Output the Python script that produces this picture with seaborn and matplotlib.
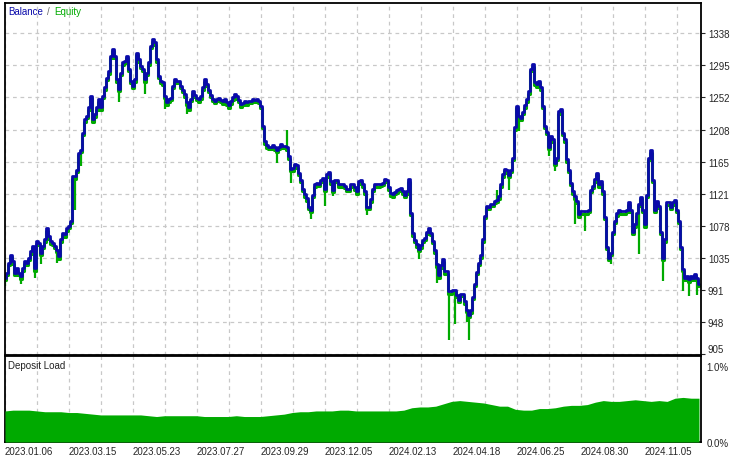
import numpy as np
import matplotlib
matplotlib.use("Agg")
import matplotlib.pyplot as plt
import matplotlib.transforms as mtransforms
from matplotlib.offsetbox import TextArea, HPacker, AnchoredOffsetbox
import seaborn as sns

# Balance curve, one value per ~2 px column of the tester chart
balance = [
    1008, 1015, 1028, 1039, 1030, 1015, 1021, 1015, 1010, 1021, 1030, 1028, 1035, 1044,
    1051, 1021, 1057, 1055, 1042, 1051, 1060, 1075, 1064, 1057, 1055, 1051, 1046,
    1037, 1060, 1069, 1067, 1075, 1078, 1085, 1145, 1145, 1154, 1177, 1181, 1204, 1222,
    1227, 1238, 1254, 1222, 1229, 1238, 1249, 1238, 1254, 1265, 1278, 1287, 1308, 1317,
    1308, 1276, 1263, 1285, 1299, 1301, 1308, 1290, 1274, 1267, 1276, 1312, 1303, 1294,
    1290, 1276, 1285, 1299, 1321, 1330, 1326, 1303, 1281, 1274, 1272, 1254, 1245, 1249,
    1251, 1267, 1276, 1274,
    1274, 1267, 1262, 1256, 1245, 1238, 1250, 1260, 1255, 1251, 1249, 1253, 1265, 1276,
    1270, 1262, 1255, 1250, 1247, 1250, 1251, 1248, 1246, 1250, 1245, 1241, 1246, 1252,
    1256, 1253, 1248, 1242, 1244, 1247, 1245, 1247, 1247, 1249, 1248, 1249, 1247, 1240,
    1213, 1192, 1187, 1185, 1185, 1187, 1184, 1181, 1185, 1189, 1186, 1186, 1184, 1172,
    1155, 1156, 1162, 1160, 1150, 1140, 1128, 1121, 1115, 1104, 1100, 1120, 1134, 1136,
    1135, 1140, 1142, 1128, 1148, 1151, 1138, 1127, 1140, 1140, 1134, 1135, 1134, 1132,
    1128, 1128, 1134, 1135,
    1130, 1125, 1138, 1140, 1134, 1125, 1104, 1104, 1114, 1128, 1135, 1134, 1134, 1135,
    1136, 1141, 1140, 1130, 1122, 1121, 1124, 1126, 1128, 1129, 1125, 1120, 1125, 1141,
    1096, 1068, 1059, 1053, 1047, 1052, 1059, 1062, 1070, 1075, 1069, 1058, 1045, 1026,
    1011, 1025, 1033, 1017, 1017, 990, 990, 992, 992, 985, 978, 986, 986, 976, 965, 958,
    964, 982, 1000, 1016, 1028, 1038, 1060, 1092, 1105, 1104, 1108, 1108, 1112, 1113,
    1118, 1134, 1148, 1155, 1153, 1147, 1154, 1170, 1211, 1240, 1227, 1224, 1232, 1241,
    1249, 1260,
    1290, 1296, 1272, 1269, 1274, 1265, 1240, 1213, 1205, 1185, 1200, 1195, 1163, 1170,
    1233, 1236, 1204, 1195, 1168, 1154, 1136, 1125, 1118, 1112, 1094, 1098, 1098, 1098,
    1098, 1100, 1127, 1132, 1141, 1150, 1134, 1138, 1125, 1090, 1050, 1035, 1042, 1070,
    1085, 1095, 1100, 1098, 1098, 1098, 1100, 1110, 1100, 1070, 1080, 1095, 1108, 1117,
    1100, 1080, 1120, 1170, 1180, 1140, 1100, 1112, 1105, 1070, 1035, 1060, 1110, 1110,
    1104, 1110, 1113, 1100, 1085, 1050, 1020, 1008, 1010, 1006, 1010, 1008, 1013, 1008, 1000,
]

# equity spikes (deal index, equity value) where floating P/L moved away from balance
equity_idx = [0, 8, 15, 18, 26, 35, 38, 57, 70, 80, 91, 136, 141, 143, 153, 160, 164,
              181, 207, 216, 222, 225, 231, 232, 246, 252, 257, 272, 275, 285, 290,
              303, 317, 329, 339, 342, 346]
equity_val = [997, 999, 1008, 1026, 1028, 1100, 1159, 1245, 1256, 1236, 1229, 1163, 1207,
              1136, 1087, 1105, 1118, 1093, 1033, 1001, 924, 946, 948, 924, 1127, 1127,
              1206, 1172, 1152, 1080, 1071, 1026, 1040, 1003, 990, 983, 985]

# deposit load in percent
deposit_load = [
    0.39, 0.40, 0.40, 0.40, 0.39, 0.38, 0.38, 0.38, 0.37, 0.37, 0.36, 0.35, 0.34, 0.34,
    0.34, 0.34, 0.34, 0.34, 0.33, 0.32, 0.33, 0.33, 0.33, 0.33, 0.33, 0.32, 0.32, 0.32,
    0.32, 0.33, 0.32, 0.32, 0.32, 0.33, 0.34, 0.35, 0.37, 0.38, 0.38, 0.39, 0.39, 0.39,
    0.40, 0.40, 0.39, 0.39, 0.39, 0.39, 0.39, 0.39, 0.40, 0.43, 0.44, 0.44, 0.45, 0.48,
    0.51, 0.52, 0.51, 0.50, 0.49, 0.47, 0.45, 0.45, 0.41, 0.40, 0.40, 0.42, 0.42, 0.43,
    0.45, 0.46, 0.46, 0.47, 0.50, 0.52, 0.51, 0.51, 0.52, 0.53, 0.52, 0.51, 0.52, 0.51,
    0.55, 0.56, 0.55, 0.55,
]

y_ticks = [905, 948.3, 991.6, 1034.9, 1078.2, 1121.5, 1164.8, 1208.1, 1251.4, 1294.7, 1338]
y_labels = ['905', '948', '991', '1035', '1078', '1121', '1165', '1208', '1252', '1295', '1338']
date_labels = ['2023.01.06', '2023.03.15', '2023.05.23', '2023.07.27', '2023.09.29',
               '2023.12.05', '2024.02.13', '2024.04.18', '2024.06.25', '2024.08.30',
               '2024.11.05']

blue = '#0a0aaa'
green = '#00aa00'
grid_col = '#c8c8c8'

sns.set_style("white")
plt.rcParams['font.family'] = ['Liberation Sans', 'DejaVu Sans']
plt.rcParams['font.size'] = 7

fig = plt.figure(figsize=(7.3, 4.6), dpi=100)
ax = fig.add_axes([5 / 730, 1 - 356 / 460, 696 / 730, 352 / 460])
ax2 = fig.add_axes([5 / 730, 1 - 443 / 460, 696 / 730, 86 / 460], sharex=ax)

x = np.arange(len(balance))

# equity shadow + spikes, then balance on top
sns.lineplot(x=x, y=balance, ax=ax, color=green, linewidth=2.2, drawstyle='steps-mid')
shift = mtransforms.ScaledTranslation(0, -2.5 / 100, fig.dpi_scale_trans)
ax.lines[-1].set_transform(ax.transData + shift)
ax.vlines(equity_idx, [balance[i] for i in equity_idx], equity_val, color=green,
          linewidth=1.6, zorder=1.8)
sns.lineplot(x=x, y=balance, ax=ax, color=blue, linewidth=2.0, drawstyle='steps-mid')

ax.set_xlim(0, len(balance))
ax.set_ylim(903.6, 1379)
ax.set_xticks(np.arange(0, len(balance), 32))
ax.set_xticks(np.arange(16, len(balance), 32), minor=True)
ax.yaxis.tick_right()
ax.set_yticks(y_ticks)
ax.set_yticklabels(y_labels)
ax.tick_params(axis='y', length=3, width=0.8, pad=2, labelsize=7)
ax.get_yticklabels()[0].set_va('bottom')
ax.tick_params(axis='x', which='both', bottom=False, labelbottom=False)
ax.grid(True, which='both', axis='x', color=grid_col, linestyle=(0, (3, 3)), linewidth=0.9)
ax.grid(True, which='major', axis='y', color=grid_col, linestyle=(0, (3, 3)), linewidth=0.9)
ax.set_axisbelow(True)
ax.set_xlabel('')
ax.set_ylabel('')

title = HPacker(children=[
    TextArea('Balance', textprops=dict(color=blue, fontsize=7)),
    TextArea('/', textprops=dict(color='#666666', fontsize=7)),
    TextArea('Equity', textprops=dict(color=green, fontsize=7)),
], align='baseline', pad=0, sep=3)
ax.add_artist(AnchoredOffsetbox(loc='upper left', child=title, pad=0, borderpad=0.35,
                                frameon=False))

# deposit load panel
x_load = np.linspace(0, len(balance) - 1, len(deposit_load))
ax2.fill_between(x_load, deposit_load, color=green, linewidth=0, zorder=3)
ax2.set_ylim(0, 1.08)
ax2.yaxis.tick_right()
ax2.set_yticks([0, 1.0])
ax2.set_yticklabels(['0.0%', '1.0%'])
ax2.tick_params(axis='y', length=0, pad=4, labelsize=7)
ax2.get_yticklabels()[1].set_va('top')
ax2.tick_params(axis='x', which='both', length=0, pad=3, labelsize=7)
ax2.set_xticklabels(date_labels, ha='left')
ax2.grid(True, which='both', axis='x', color=grid_col, linestyle=(0, (3, 3)), linewidth=0.9)
ax2.set_axisbelow(True)
ax2.text(0.004, 0.95, 'Deposit Load', transform=ax2.transAxes, ha='left', va='top',
         fontsize=7, color='#222222')

for a in (ax, ax2):
    for s in a.spines.values():
        s.set_color('black')
        s.set_linewidth(1.3)
        s.set_visible(True)

fig.savefig('out.png', dpi=100)
